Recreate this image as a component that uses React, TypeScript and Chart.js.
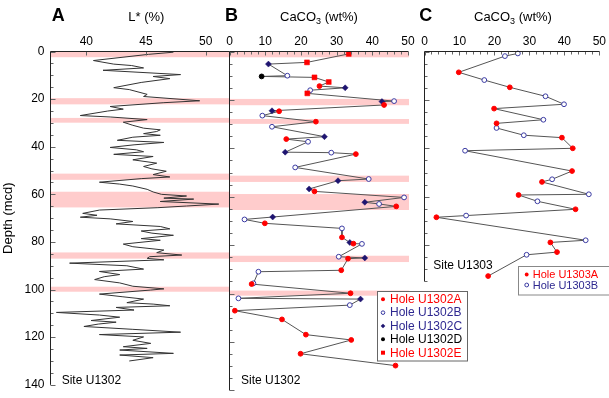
import React, { useEffect, useRef } from 'react';
import { Chart, registerables } from 'chart.js';

Chart.register(...registerables);

const W = 609;
const H = 398;
const FONT = '"Liberation Sans", Arial, Helvetica, sans-serif';

// ---------- Panel A : L* (%) vs depth (Site U1302) ----------
const depthA = [
  0.3, 1.2, 3.8, 5.3, 5.9, 6.9, 7.9, 9.7, 10.5, 11.4, 13.0, 15.2, 16.0, 18.0, 18.9, 20.7, 21.5, 23.1, 24.2, 25.0,
  26.9, 27.5, 28.6, 29.7, 31.0, 32.2, 32.9, 33.6, 34.5, 35.2, 36.0, 37.3, 38.2, 39.2, 40.3, 41.3, 42.1, 43.2, 44.1, 45.5,
  46.9, 48.3, 49.3, 50.3, 51.7, 52.7, 53.4, 54.9, 55.7, 56.5, 57.9, 59.0, 60.0, 60.7, 61.6, 62.0, 63.0, 64.1, 64.9, 65.6,
  66.6, 68.0, 68.8, 69.6, 70.3, 71.4, 72.4, 73.5, 74.5, 75.4, 76.3, 77.2, 78.6, 79.3, 80.9, 82.0, 83.4, 84.5, 85.5, 86.2,
  86.9, 87.5, 88.9, 90.0, 91.4, 92.4, 93.7, 94.6, 95.8, 97.2, 98.6, 99.7, 100.2, 101.9, 103.0, 104.0, 105.5, 106.1, 106.8, 107.5,
  108.6, 109.6, 110.7, 111.6, 113.0, 113.7, 114.5, 115.5, 116.7, 117.9, 118.9, 119.9, 121.3, 122.6, 124.0, 124.7, 125.4, 126.8, 127.5, 128.6,
  130.0,
];
const lstarA = [
  47.3, 45.2, 40.6, 42.3, 43.8, 44.8, 41.4, 47.9, 45.6, 47.0, 44.6, 42.3, 43.6, 45.1, 44.8, 49.5, 46.5, 42.0, 43.1, 41.8,
  39.5, 42.0, 45.1, 43.1, 43.9, 44.8, 46.2, 45.9, 44.8, 46.2, 43.9, 42.6, 46.5, 44.0, 42.0, 44.2, 44.8, 42.3, 45.6, 43.9,
  45.9, 44.8, 45.5, 46.7, 45.6, 47.0, 44.6, 41.1, 42.8, 43.9, 45.1, 45.6, 46.3, 48.4, 46.5, 49.0, 46.2, 51.1, 48.4, 46.0,
  41.1, 39.7, 40.9, 39.5, 42.0, 43.9, 42.5, 46.2, 47.0, 44.6, 45.5, 47.3, 44.6, 46.2, 43.1, 43.9, 46.5, 45.9, 48.0, 45.3,
  45.1, 46.5, 38.6, 43.4, 44.8, 41.1, 42.8, 41.5, 40.7, 42.8, 43.9, 46.5, 45.4, 41.1, 43.0, 44.8, 43.4, 45.6, 47.0, 42.5,
  44.0, 37.5, 41.1, 42.8, 40.4, 42.5, 41.0, 39.8, 43.9, 47.9, 41.1, 44.8, 43.9, 45.4, 43.1, 45.1, 42.8, 47.3, 42.8, 45.6,
  43.6,
];
const A_XTICKS = [40, 45, 50];
const DEPTH_TICKS = [0, 20, 40, 60, 80, 100, 120, 140];
const CACO3_TICKS = [0, 10, 20, 30, 40, 50];

// Highlighted depth intervals (mcd)
const bandTop = [0, 19.6, 27.9, 51.3, 58.9, 84.4, 98.8];
const bandBottom = [2.4, 22.2, 29.9, 53.9, 65.5, 87.0, 100.9];

// ---------- Panel B : CaCO3, Site U1302 ----------
const u1302A_depth = [14.3, 22.1, 24.7, 29.0, 36.2, 42.4, 57.8, 64.0, 71.0, 76.8, 79.4, 85.6, 90.4, 96.1, 99.9, 107.1, 110.7, 117.0, 119.2, 124.9, 129.8];
const u1302A_caco3 = [25.2, 43.3, 13.9, 24.2, 15.9, 35.4, 23.8, 46.7, 9.9, 31.5, 34.7, 33.2, 31.3, 6.2, 33.9, 1.5, 14.7, 21.4, 34.1, 19.9, 46.5];
const u1302B_depth = [10.0, 16.0, 20.5, 26.5, 31.1, 37.3, 41.8, 47.9, 52.7, 60.3, 63.0, 69.4, 73.1, 79.5, 84.8, 91.0, 95.8, 102.0, 104.8];
const u1302B_caco3 = [16.2, 22.6, 46.1, 9.2, 11.9, 22.0, 28.5, 18.4, 39.0, 48.9, 41.9, 4.2, 31.5, 37.1, 30.6, 8.1, 6.7, 2.5, 33.7];
const u1302C_depth = [5.2, 15.0, 20.7, 24.5, 35.2, 41.6, 53.4, 56.8, 62.3, 68.4, 78.9, 85.3, 102.3];
const u1302C_caco3 = [10.9, 32.4, 42.7, 11.9, 26.6, 15.6, 30.4, 22.3, 37.9, 12.1, 33.7, 37.9, 36.7];
const u1302D_depth = [10.3];
const u1302D_caco3 = [9.0];
const u1302E_depth = [1.0, 4.5, 10.7, 12.6, 17.3];
const u1302E_caco3 = [33.4, 21.7, 23.8, 27.8, 21.8];

// ---------- Panel C : CaCO3, Site U1303 ----------
const u1303A_depth = [8.6, 14.8, 23.6, 29.7, 35.6, 40.0, 49.4, 53.9, 59.3, 65.2, 68.5, 78.9, 82.9, 92.8];
const u1303A_caco3 = [9.8, 24.4, 19.9, 20.6, 39.3, 42.4, 42.2, 33.6, 26.9, 43.2, 3.4, 36.0, 37.9, 18.2];
const u1303B_depth = [0.8, 1.9, 11.8, 18.5, 21.8, 28.2, 31.6, 34.6, 41.0, 52.8, 59.0, 61.9, 67.8, 78.0, 84.0];
const u1303B_caco3 = [26.7, 23.0, 17.1, 34.6, 39.9, 34.0, 20.6, 28.4, 11.6, 36.5, 47.0, 32.3, 11.9, 46.1, 29.2];

const LEGEND_B = ['Hole U1302A', 'Hole U1302B', 'Hole U1302C', 'Hole U1302D', 'Hole U1302E'];
const LEGEND_C = ['Hole U1303A', 'Hole U1303B'];

// ---------- styling ----------
const RED = '#FF0000';
const NAVY_TEXT = '#2E2890';
const NAVY_OPEN = '#3A3AA2';
const NAVY_DIAMOND = '#1E1470';
const BAND = 'rgb(255,204,204)';

const PLOT_TOP = 51.5;
const PLOT_BOTTOM = 390.3;
const A_LEFT = 50.5;
const A_RIGHT = 229.5;
const B_LEFT = 229.5;
const B_RIGHT = 408;
const C_LEFT = 424.5;
const C_RIGHT = 602;
const C_YMAX = 95;
const C_BOTTOM = PLOT_TOP + (C_YMAX / 140) * (PLOT_BOTTOM - PLOT_TOP);

const pts = (depths: number[], vals: number[]) => depths.map((d, i) => ({ x: vals[i], y: d }));
const composite = (...sets: { x: number; y: number }[][]) =>
  ([] as { x: number; y: number }[]).concat(...sets).sort((a, b) => a.y - b.y);

function drawMarker(ctx: CanvasRenderingContext2D, style: string, x: number, y: number, r: number, fill: string | null, stroke: string | null) {
  ctx.beginPath();
  if (style === 'circle') ctx.arc(x, y, r, 0, Math.PI * 2);
  else if (style === 'rect') ctx.rect(x - r, y - r, 2 * r, 2 * r);
  else {
    ctx.moveTo(x - r, y);
    ctx.lineTo(x, y - r);
    ctx.lineTo(x + r, y);
    ctx.lineTo(x, y + r);
    ctx.closePath();
  }
  if (fill) {
    ctx.fillStyle = fill;
    ctx.fill();
  }
  if (stroke) {
    ctx.strokeStyle = stroke;
    ctx.lineWidth = 1;
    ctx.stroke();
  }
}

function drawCaCO3(ctx: CanvasRenderingContext2D, x: number, baseline: number) {
  ctx.fillStyle = '#000';
  ctx.textAlign = 'left';
  ctx.textBaseline = 'alphabetic';
  ctx.font = `13px ${FONT}`;
  ctx.fillText('CaCO', x, baseline);
  let w = ctx.measureText('CaCO').width;
  ctx.font = `9px ${FONT}`;
  ctx.fillText('3', x + w, baseline + 3.5);
  w += ctx.measureText('3').width;
  ctx.font = `13px ${FONT}`;
  ctx.fillText(' (wt%)', x + w, baseline);
}

function text(ctx: CanvasRenderingContext2D, s: string, x: number, baseline: number, font: string, color = '#000') {
  ctx.fillStyle = color;
  ctx.textAlign = 'left';
  ctx.textBaseline = 'alphabetic';
  ctx.font = font;
  ctx.fillText(s, x, baseline);
}

type FrameOpts = {
  id: string;
  bands: boolean;
  bandExtra: number;
  xTicks: number[];
  xMinorStep: number;
  yMax: number;
  extra: (ctx: CanvasRenderingContext2D, chart: any) => void;
};

function framePlugin(o: FrameOpts) {
  return {
    id: o.id,
    beforeDatasetsDraw(chart: any) {
      if (!o.bands) return;
      const { ctx, chartArea: ca, scales } = chart;
      ctx.save();
      ctx.fillStyle = BAND;
      bandTop.forEach((t, i) => {
        const y1 = scales.y.getPixelForValue(t);
        const y2 = scales.y.getPixelForValue(bandBottom[i]);
        ctx.fillRect(ca.left, y1, ca.right - ca.left + o.bandExtra, y2 - y1);
      });
      ctx.restore();
    },
    afterDatasetsDraw(chart: any) {
      const { ctx, chartArea: ca, scales } = chart;
      const xs = scales.x;
      const ys = scales.y;
      const lx = Math.floor(ca.left) + 0.5;
      const ty = Math.floor(ca.top) + 0.5;
      ctx.save();
      // ticks
      ctx.strokeStyle = '#666';
      ctx.lineWidth = 1;
      ctx.beginPath();
      for (let v = 0; v <= o.yMax + 1e-6; v += 5) {
        const y = Math.round(ys.getPixelForValue(v)) + 0.5;
        const len = v % 20 === 0 ? 5 : 3;
        ctx.moveTo(lx, y);
        ctx.lineTo(lx + len, y);
      }
      if (o.xMinorStep > 0) {
        for (let v = xs.min; v <= xs.max + 1e-6; v += o.xMinorStep) {
          const x = Math.round(xs.getPixelForValue(v)) + 0.5;
          ctx.moveTo(x, ty);
          ctx.lineTo(x, ty + 3);
        }
      }
      o.xTicks.forEach((v) => {
        const x = Math.round(xs.getPixelForValue(v)) + 0.5;
        ctx.moveTo(x, ty);
        ctx.lineTo(x, ty + 4);
      });
      ctx.stroke();
      // axis lines
      ctx.strokeStyle = '#222';
      ctx.beginPath();
      ctx.moveTo(lx, ca.bottom);
      ctx.lineTo(lx, ty);
      ctx.lineTo(ca.right, ty);
      ctx.stroke();
      ctx.restore();
    },
    afterDraw(chart: any) {
      const ctx = chart.ctx;
      ctx.save();
      o.extra(ctx, chart);
      ctx.restore();
    },
  };
}

function axisX(min: number, max: number, ticks: number[]) {
  return {
    type: 'linear',
    position: 'top',
    min,
    max,
    grid: { display: false, drawTicks: false },
    border: { display: false },
    afterBuildTicks: (s: any) => {
      s.ticks = ticks.map((v) => ({ value: v }));
    },
    afterFit: (s: any) => {
      s.height = PLOT_TOP;
    },
    ticks: { padding: 3, color: '#000', font: { size: 12, family: FONT }, autoSkip: false, maxRotation: 0 },
  };
}

function hiddenY(max: number) {
  return { type: 'linear', display: false, reverse: true, min: 0, max };
}

const common = {
  responsive: false,
  animation: false,
  events: [],
  plugins: { legend: { display: false }, tooltip: { enabled: false } },
};

function configA() {
  return {
    type: 'scatter',
    data: {
      datasets: [
        {
          label: 'L*',
          data: pts(depthA, lstarA),
          showLine: true,
          pointRadius: 0,
          borderColor: '#333',
          borderWidth: 1,
          tension: 0,
          clip: false,
        },
      ],
    },
    options: {
      ...common,
      layout: { padding: { left: 0, top: 0, right: W - A_RIGHT, bottom: H - PLOT_BOTTOM } },
      scales: {
        x: axisX(37, 52, A_XTICKS),
        y: {
          type: 'linear',
          position: 'left',
          reverse: true,
          min: 0,
          max: 140,
          grid: { display: false, drawTicks: false },
          border: { display: false },
          afterBuildTicks: (s: any) => {
            s.ticks = DEPTH_TICKS.map((v) => ({ value: v }));
          },
          afterFit: (s: any) => {
            s.width = A_LEFT;
          },
          ticks: { padding: 6, color: '#000', font: { size: 12, family: FONT }, autoSkip: false },
          title: {
            display: true,
            text: 'Depth (mcd)',
            color: '#000',
            font: { size: 13, family: FONT },
            padding: { top: 0.5, bottom: 0 },
          },
        },
      },
    },
    plugins: [
      framePlugin({
        id: 'frameA',
        bands: true,
        bandExtra: 0,
        xTicks: A_XTICKS,
        xMinorStep: 0,
        yMax: 140,
        extra: (ctx) => {
          text(ctx, 'A', 51.7, 20.5, `bold 18px ${FONT}`);
          text(ctx, 'L* (%)', 128.3, 20.7, `13px ${FONT}`);
          text(ctx, 'Site U1302', 61.7, 384.3, `12px ${FONT}`);
        },
      }),
    ],
  };
}

function configB() {
  const dA = pts(u1302A_depth, u1302A_caco3);
  const dB = pts(u1302B_depth, u1302B_caco3);
  const dC = pts(u1302C_depth, u1302C_caco3);
  const dD = pts(u1302D_depth, u1302D_caco3);
  const dE = pts(u1302E_depth, u1302E_caco3);
  return {
    type: 'scatter',
    data: {
      datasets: [
        { label: LEGEND_B[0], data: dA, pointStyle: 'circle', pointRadius: 2.4, backgroundColor: RED, borderColor: RED, borderWidth: 1, clip: false },
        { label: LEGEND_B[4], data: dE, pointStyle: 'rect', pointRadius: 3.5, backgroundColor: RED, borderColor: RED, borderWidth: 0.5, clip: false },
        { label: LEGEND_B[3], data: dD, pointStyle: 'circle', pointRadius: 2.4, backgroundColor: '#000', borderColor: '#000', borderWidth: 1, clip: false },
        { label: LEGEND_B[2], data: dC, pointStyle: 'rectRot', pointRadius: 3, backgroundColor: NAVY_DIAMOND, borderColor: NAVY_DIAMOND, borderWidth: 0.5, clip: false },
        { label: LEGEND_B[1], data: dB, pointStyle: 'circle', pointRadius: 2.4, backgroundColor: '#fff', borderColor: NAVY_OPEN, borderWidth: 1, clip: false },
        {
          label: 'composite',
          data: composite(dA, dB, dC, dD, dE),
          showLine: true,
          pointRadius: 0,
          borderColor: '#555',
          borderWidth: 1,
          tension: 0,
          clip: false,
        },
      ],
    },
    options: {
      ...common,
      layout: { padding: { left: B_LEFT, top: 0, right: W - B_RIGHT, bottom: H - PLOT_BOTTOM } },
      scales: { x: axisX(0, 50, CACO3_TICKS), y: hiddenY(140) },
    },
    plugins: [
      framePlugin({
        id: 'frameB',
        bands: true,
        bandExtra: 1,
        xTicks: CACO3_TICKS,
        xMinorStep: 2,
        yMax: 140,
        extra: (ctx) => {
          text(ctx, 'B', 225, 20.5, `bold 18px ${FONT}`);
          drawCaCO3(ctx, 280, 20.7);
          text(ctx, 'Site U1302', 241, 384.3, `12px ${FONT}`);
          // legend
          ctx.fillStyle = '#fff';
          ctx.fillRect(377, 291.5, 90, 69.5);
          ctx.strokeStyle = '#666';
          ctx.lineWidth = 1;
          ctx.strokeRect(377.5, 291.5, 90, 69.5);
          const styles = ['circle', 'circle', 'rectRot', 'circle', 'rect'];
          const fills = [RED, '#fff', NAVY_DIAMOND, '#000', RED];
          const strokes = [null, NAVY_OPEN, null, null, null];
          const radii = [2, 1.8, 2.3, 2, 2];
          const colors = [RED, NAVY_TEXT, NAVY_TEXT, '#000', RED];
          LEGEND_B.forEach((lab, i) => {
            const y = 299.3 + i * 13.35;
            drawMarker(ctx, styles[i], 383, y, radii[i], fills[i], strokes[i]);
            ctx.fillStyle = colors[i];
            ctx.font = `12px ${FONT}`;
            ctx.textAlign = 'left';
            ctx.textBaseline = 'middle';
            ctx.fillText(lab, 390, y + 0.5);
          });
        },
      }),
    ],
  };
}

function configC() {
  const dA = pts(u1303A_depth, u1303A_caco3);
  const dB = pts(u1303B_depth, u1303B_caco3);
  return {
    type: 'scatter',
    data: {
      datasets: [
        { label: LEGEND_C[0], data: dA, pointStyle: 'circle', pointRadius: 2.4, backgroundColor: RED, borderColor: RED, borderWidth: 1, clip: false },
        { label: LEGEND_C[1], data: dB, pointStyle: 'circle', pointRadius: 2.4, backgroundColor: '#fff', borderColor: NAVY_OPEN, borderWidth: 1, clip: false },
        {
          label: 'composite',
          data: composite(dA, dB),
          showLine: true,
          pointRadius: 0,
          borderColor: '#555',
          borderWidth: 1,
          tension: 0,
          clip: false,
        },
      ],
    },
    options: {
      ...common,
      layout: { padding: { left: C_LEFT, top: 0, right: W - C_RIGHT, bottom: H - C_BOTTOM } },
      scales: { x: axisX(0, 50, CACO3_TICKS), y: hiddenY(C_YMAX) },
    },
    plugins: [
      framePlugin({
        id: 'frameC',
        bands: false,
        bandExtra: 0,
        xTicks: CACO3_TICKS,
        xMinorStep: 2,
        yMax: C_YMAX,
        extra: (ctx) => {
          text(ctx, 'C', 419.3, 20.5, `bold 18px ${FONT}`);
          drawCaCO3(ctx, 474, 20.7);
          text(ctx, 'Site U1303', 433.3, 269.3, `12px ${FONT}`);
          ctx.fillStyle = '#fff';
          ctx.fillRect(518, 266.5, 91, 28.5);
          ctx.strokeStyle = '#888';
          ctx.lineWidth = 1;
          ctx.strokeRect(518.5, 266.5, 92, 28.5);
          const styles = ['circle', 'circle'];
          const fills = [RED, '#fff'];
          const strokes = [null, NAVY_OPEN];
          const colors = [RED, NAVY_TEXT];
          LEGEND_C.forEach((lab, i) => {
            const y = 274.5 + i * 10.5;
            drawMarker(ctx, styles[i], 526.7, y, 1.9, fills[i], strokes[i]);
            ctx.fillStyle = colors[i];
            ctx.font = `11px ${FONT}`;
            ctx.textAlign = 'left';
            ctx.textBaseline = 'middle';
            ctx.fillText(lab, 532.7, y + 0.5);
          });
        },
      }),
    ],
  };
}

export default function App() {
  const refA = useRef<HTMLCanvasElement>(null);
  const refB = useRef<HTMLCanvasElement>(null);
  const refC = useRef<HTMLCanvasElement>(null);

  useEffect(() => {
    const charts: Chart[] = [];
    if (refA.current) charts.push(new Chart(refA.current, configA() as any));
    if (refC.current) charts.push(new Chart(refC.current, configC() as any));
    if (refB.current) charts.push(new Chart(refB.current, configB() as any));
    return () => charts.forEach((c) => c.destroy());
  }, []);

  const cs: React.CSSProperties = { position: 'absolute', left: 0, top: 0, width: W, height: H };
  return (
    <div style={{ position: 'absolute', left: 0, top: 0, width: W, height: H, background: '#fff', overflow: 'hidden' }}>
      <canvas ref={refA} width={W} height={H} style={cs} />
      <canvas ref={refC} width={W} height={H} style={cs} />
      <canvas ref={refB} width={W} height={H} style={cs} />
    </div>
  );
}
